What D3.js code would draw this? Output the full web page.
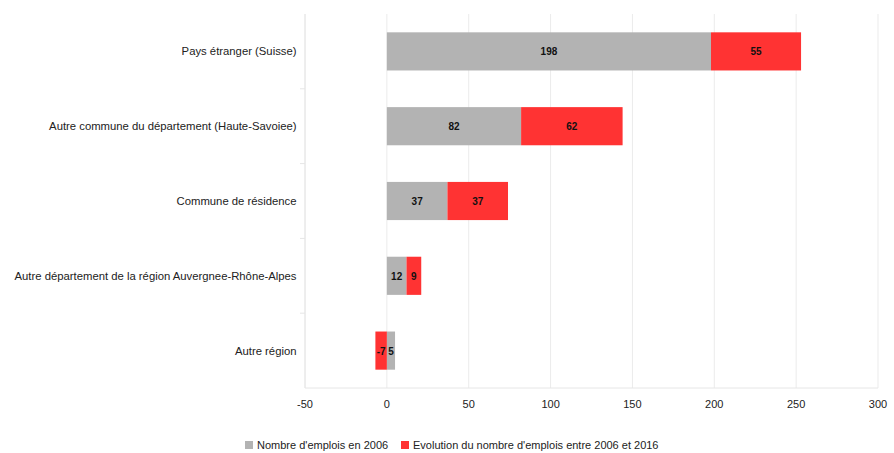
<!DOCTYPE html>
<html><head><meta charset="utf-8">
<script src="https://cdn.jsdelivr.net/npm/d3@7"></script>
<style>body{margin:0;background:#fff;} text{font-family:"Liberation Sans",Arial,sans-serif;}</style>
</head><body>
<svg id="c" width="894" height="453"></svg>
<script>
const categories = ["Pays étranger (Suisse)","Autre commune du département (Haute-Savoiee)","Commune de résidence","Autre département de la région Auvergnee-Rhône-Alpes","Autre région"];
const emplois2006 = [198, 82, 37, 12, 5];
const evolution = [55, 62, 37, 9, -7];
const seriesNames = ["Nombre d'emplois en 2006","Evolution du nombre d'emplois entre 2006 et 2016"];
const seriesColors = ["#b3b3b3","#ff3333"];
const xTicks = [-50,0,50,100,150,200,250,300];

const svg = d3.select("#c");
const m = {l:305, t:14};
const x = d3.scaleLinear().domain([-50,300]).range([m.l, 878]);
const y = d3.scaleBand().domain(categories).range([m.t, 388]).paddingInner(0.49).paddingOuter(0.245);

const rows = categories.map((c,i)=>({cat:c, a:emplois2006[i], b:evolution[i]}));
const stack = d3.stack().keys(["a","b"]).offset(d3.stackOffsetDiverging);
const stacked = stack(rows);

// gridlines
svg.append("g").selectAll("line").data(xTicks).join("line")
  .attr("x1",d=>x(d)).attr("x2",d=>x(d)).attr("y1",m.t).attr("y2",388)
  .attr("stroke","#ebebeb").attr("stroke-width",1);
svg.append("line").attr("x1",m.l).attr("x2",878).attr("y1",388).attr("y2",388).attr("stroke","#e6e6e6");
svg.append("line").attr("x1",m.l).attr("x2",m.l).attr("y1",m.t).attr("y2",388).attr("stroke","#e6e6e6");
const step = y.step();
svg.append("g").selectAll("line").data(d3.range(1,categories.length)).join("line")
  .attr("x1",m.l-5).attr("x2",m.l).attr("y1",d=>m.t+d*step).attr("y2",d=>m.t+d*step).attr("stroke","#e6e6e6");

// x tick labels
svg.append("g").selectAll("text").data(xTicks).join("text")
  .attr("x",d=>x(d)).attr("y",408).attr("text-anchor","middle")
  .attr("font-size",11).attr("fill","#222").text(d=>d);

// category labels
svg.append("g").selectAll("text").data(categories).join("text")
  .attr("x",296.5).attr("y",d=>y(d)+y.bandwidth()/2+4).attr("text-anchor","end")
  .attr("font-size",11.3).attr("fill","#222").text(d=>d);

// bars
stacked.forEach((s,si)=>{
  const g = svg.append("g");
  g.selectAll("rect").data(s).join("rect")
    .attr("x",d=>x(Math.min(d[0],d[1]))).attr("width",d=>Math.abs(x(d[1])-x(d[0])))
    .attr("y",d=>y(d.data.cat)).attr("height",y.bandwidth())
    .attr("fill",seriesColors[si]);
  g.selectAll("text").data(s).join("text")
    .attr("x",d=>(x(d[0])+x(d[1]))/2).attr("y",d=>y(d.data.cat)+y.bandwidth()/2+4)
    .attr("text-anchor","middle").attr("font-size",10).attr("font-weight","bold").attr("fill","#111")
    .text(d=>d.data[s.key]);
});

// legend
const legX = [245, 401];
seriesNames.forEach((n,i)=>{
  svg.append("rect").attr("x",legX[i]).attr("y",441).attr("width",8).attr("height",8).attr("fill",seriesColors[i]);
  svg.append("text").attr("x",legX[i]+12).attr("y",449).attr("font-size",11).attr("fill","#222").text(n);
});
</script>
</body></html>
